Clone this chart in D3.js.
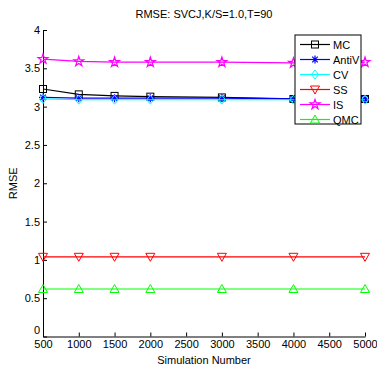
<!DOCTYPE html>
<html><head><meta charset="utf-8">
<script src="https://cdn.jsdelivr.net/npm/d3@7"></script>
<style>body{margin:0;background:#fff}svg{display:block}text{font-family:"Liberation Sans",Arial,sans-serif}</style>
</head><body><svg id="c" width="377" height="371"></svg>
<script>
const simNumbers = [500, 1000, 1500, 2000, 3000, 4000, 5000];
const mcValues    = [3.23, 3.16, 3.14, 3.13, 3.12, 3.10, 3.10];
const antiVValues = [3.12, 3.11, 3.11, 3.11, 3.11, 3.10, 3.10];
const cvValues    = [3.10, 3.09, 3.09, 3.09, 3.09, 3.09, 3.09];
const ssValues    = [1.04, 1.04, 1.04, 1.04, 1.04, 1.04, 1.04];
const isValues    = [3.62, 3.59, 3.58, 3.58, 3.58, 3.57, 3.58];
const qmcValues   = [0.62, 0.62, 0.62, 0.62, 0.62, 0.62, 0.62];
const seriesNames = ["MC", "AntiV", "CV", "SS", "IS", "QMC"];
const xTicks = [500,1000,1500,2000,2500,3000,3500,4000,4500,5000];
const yTicks = [0,0.5,1,1.5,2,2.5,3,3.5,4];

const series = [
  {name:"MC", values:mcValues, color:"#000000", marker:"square"},
  {name:"AntiV", values:antiVValues, color:"#0000ff", marker:"asterisk"},
  {name:"CV", values:cvValues, color:"#00ffff", marker:"diamond"},
  {name:"SS", values:ssValues, color:"#ff0000", marker:"down"},
  {name:"IS", values:isValues, color:"#ff00ff", marker:"star"},
  {name:"QMC", values:qmcValues, color:"#00ff00", marker:"up"}
];

const svg = d3.select("#c");
const L=43, R=365, T=30, B=336.5;
const x = d3.scaleLinear().domain([500,5000]).range([L,R]);
const y = d3.scaleLinear().domain([0,4]).range([B,T]);

const gx = svg.append("g").attr("transform",`translate(0,${B})`)
  .call(d3.axisBottom(x).tickValues(xTicks).tickSizeInner(-4).tickSizeOuter(0).tickPadding(3).tickFormat(d3.format("d")));
const gy = svg.append("g").attr("transform",`translate(${L},0)`)
  .call(d3.axisLeft(y).tickValues(yTicks).tickSizeInner(-4).tickSizeOuter(0).tickPadding(3).tickFormat(d=>String(d)));
[gx,gy].forEach(g=>{
  g.selectAll("path").attr("stroke","#000").attr("stroke-width",1);
  g.selectAll("line").attr("stroke","#000");
  g.selectAll("text").attr("font-size",11).attr("fill","#000").style("font-family","'Liberation Sans',Arial,sans-serif");
});
gx.selectAll("text").attr("dy","0.75em");
gy.selectAll(".tick text").filter(d=>d===0).attr("dy","-0.25em");

svg.append("text").attr("x",(L+R)/2).attr("y",18).attr("text-anchor","middle").attr("font-size",11).text("RMSE: SVCJ,K/S=1.0,T=90");
svg.append("text").attr("x",(L+R)/2).attr("y",364).attr("text-anchor","middle").attr("font-size",11).text("Simulation Number");
svg.append("text").attr("transform",`translate(17,${(T+B)/2}) rotate(-90)`).attr("text-anchor","middle").attr("font-size",11).text("RMSE");

function drawMarker(g, type, cx, cy, color){
  const s=3.5;
  if(type==="square") g.append("rect").attr("x",cx-s).attr("y",cy-s).attr("width",2*s).attr("height",2*s).attr("fill","none").attr("stroke",color).attr("stroke-width",1);
  else if(type==="diamond") g.append("path").attr("d",`M${cx},${cy-4.5}L${cx+3.5},${cy}L${cx},${cy+4.5}L${cx-3.5},${cy}Z`).attr("fill","none").attr("stroke",color).attr("stroke-width",1);
  else if(type==="down") g.append("path").attr("d",`M${cx-4.5},${cy-3.5}L${cx+4.5},${cy-3.5}L${cx},${cy+4.5}Z`).attr("fill","none").attr("stroke",color).attr("stroke-width",1);
  else if(type==="up") g.append("path").attr("d",`M${cx-4.5},${cy+3.5}L${cx+4.5},${cy+3.5}L${cx},${cy-4.5}Z`).attr("fill","none").attr("stroke",color).attr("stroke-width",1);
  else if(type==="star") g.append("path").attr("d",d3.symbol().type(d3.symbolStar).size(30)()).attr("transform",`translate(${cx},${cy})`).attr("fill","none").attr("stroke",color).attr("stroke-width",1.2);
  else if(type==="asterisk"){
    const a=4;
    g.append("path").attr("d",`M${cx-a},${cy}L${cx+a},${cy}M${cx},${cy-a}L${cx},${cy+a}M${cx-a*0.7},${cy-a*0.7}L${cx+a*0.7},${cy+a*0.7}M${cx-a*0.7},${cy+a*0.7}L${cx+a*0.7},${cy-a*0.7}`).attr("stroke",color).attr("stroke-width",1.2);
  }
}

const line = d3.line().x(d=>x(d[0])).y(d=>y(d[1]));
series.forEach(s=>{
  const g = svg.append("g");
  const pts = simNumbers.map((n,i)=>[n,s.values[i]]);
  g.append("path").attr("d",line(pts)).attr("fill","none").attr("stroke",s.color).attr("stroke-width",1.2);
  pts.forEach(p=>drawMarker(g,s.marker,x(p[0]),y(p[1]),s.color));
});

// legend
const lg = svg.append("g");
lg.append("rect").attr("x",295).attr("y",35).attr("width",66).attr("height",89).attr("fill","#fff").attr("stroke","#000").attr("stroke-width",1);
series.forEach((s,i)=>{
  const yy = 44.5 + i*15;
  lg.append("line").attr("x1",300).attr("x2",330).attr("y1",yy).attr("y2",yy).attr("stroke",s.color).attr("stroke-width",1.2);
  drawMarker(lg,s.marker,315,yy,s.color);
  lg.append("text").attr("x",333).attr("y",yy+4).attr("font-size",11).text(s.name);
});
</script></body></html>
